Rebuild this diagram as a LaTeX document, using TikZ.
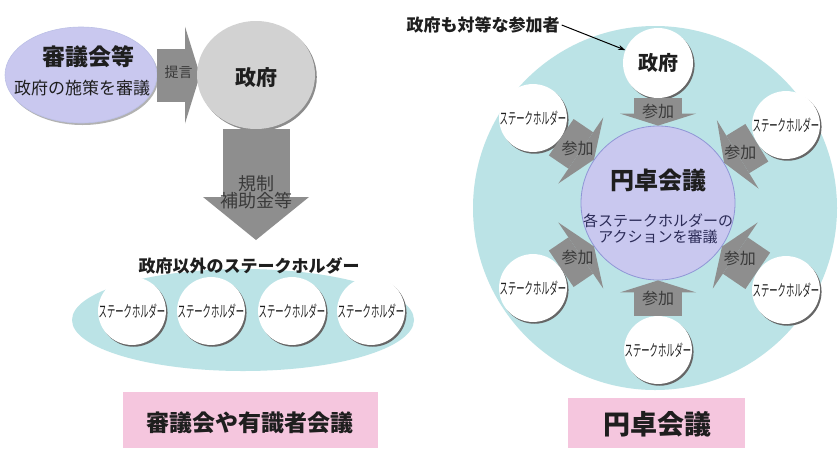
\documentclass[tikz,border=0pt]{standalone}
\usepackage{fontspec}
\setmainfont{Noto Sans CJK JP}
\usetikzlibrary{arrows.meta,calc,shapes.geometric,shadows}
\definecolor{tealbg}{HTML}{BBE3E6}
\definecolor{lav}{HTML}{C9C8EF}
\definecolor{lavedge}{HTML}{9096D6}
\definecolor{pinkbg}{HTML}{F5C6DE}
\definecolor{arrgray}{HTML}{8E8E8E}
\definecolor{circgray}{HTML}{D2D2D2}
\definecolor{txt}{HTML}{1E1E1E}
\definecolor{navytxt}{HTML}{2C2C58}
\definecolor{lbltxt}{HTML}{3A3A3A}
\newcommand{\fsz}[1]{\fontsize{#1}{#1}\selectfont}
\newcommand{\stxt}{\scalebox{0.52}[1]{\fsz{16}ステークホルダー}}
\begin{document}
\begin{tikzpicture}[x=1pt,y=-1pt,
  stake/.style={circle, fill=white, minimum size=66pt, inner sep=0pt, text=txt,
    drop shadow={shadow xshift=1.6pt, shadow yshift=-1.8pt, fill=black!60, opacity=1}},
  lbl/.style={text=lbltxt, font=\fsz{16}, inner sep=0pt},
  blkR/.style={draw=arrgray, line width=48pt, -{Triangle[length=12pt,width=76pt,line width=0pt]}},
  blkD/.style={draw=arrgray, line width=44pt, -{Triangle[length=16pt,width=80pt,line width=0pt]}},
  pinkbox/.style={fill=pinkbg, draw=none}
]
\useasboundingbox (0,0) rectangle (840,448);
\fill[white] (0,0) rectangle (840,448);

% ---------------- left panel ----------------
\node[ellipse, fill=lav, draw=lavedge!60, line width=0.6pt, minimum width=152pt, minimum height=96pt,
  drop shadow={shadow xshift=1.5pt, shadow yshift=-2pt, fill=black!30, opacity=1}] (shingi) at (81,75) {};
\node[text=txt, font=\bfseries\fsz{23}] (shingiT) at (88,57) {審議会等};
\node[text=txt, font=\fsz{17}] (shingiS) at (82,88) {政府の施策を審議};

% proposal arrow (behind government circle)
\draw[draw=arrgray, line width=53pt, -{Triangle[length=15pt,width=97pt,line width=0pt]}] (shingi) -- node[text=lbltxt, font=\fsz{14}, inner sep=0pt, yshift=3pt] {提言} (200,75);

\node[ellipse, fill=circgray, minimum width=118pt, minimum height=108pt, inner sep=0pt,
  drop shadow={shadow xshift=1.8pt, shadow yshift=-2pt, fill=black!45, opacity=1}] (seifuL) at (256,75) {};
\node[text=txt, font=\bfseries\fsz{21}] (seifuLT) at (256,78) {政府};

\coordinate (dtip) at (256,240);
\draw[draw=arrgray, line width=67pt, -{Triangle[length=43pt,width=106pt,line width=0pt]}] (seifuL) -- (dtip);
\node[text=lbltxt, font=\fsz{18}, align=center, inner sep=0pt] (regT) at (256,192) {規制\\[-1pt]補助金等};

% stakeholder group
\fill[tealbg] (243,320) ellipse[x radius=171, y radius=51];
\node[text=txt, font=\bfseries\fsz{17}] (groupT) at (249,266) {政府以外のステークホルダー};
\node[stake] (L1) at (132,311) {\stxt};
\node[stake] (L2) at (211,311) {\stxt};
\node[stake] (L3) at (292,311) {\stxt};
\node[stake] (L4) at (371,311) {\stxt};

\fill[pinkbox] (123,392) rectangle (378,448);
\node[text=txt, font=\bfseries\fsz{23}] (leftT) at (250,423) {審議会や有識者会議};

% ---------------- right panel ----------------
\fill[tealbg] (655,208) circle[radius=182];

\node[circle, fill=lav, draw=lavedge, line width=0.8pt, minimum size=154pt, inner sep=0pt] (round) at (658,203) {};
\node[text=txt, font=\bfseries\fsz{24}] (roundT) at (658,180) {円卓会議};
\node[text=navytxt, font=\fsz{15}, align=center, inner sep=0pt] (roundS) at (658,229) {各ステークホルダーの\\[1pt]アクションを審議};

\node[stake, minimum size=70pt] (G) at (658,63) {\bfseries\fsz{20}政府};
\node[stake] (S1) at (533,118) {\stxt};
\node[stake] (S2) at (786,125) {\stxt};
\node[stake] (S3) at (533,288) {\stxt};
\node[stake] (S4) at (786,290) {\stxt};
\node[stake] (S5) at (658,350) {\stxt};

\draw[blkR] (G) -- node[lbl] {参加} (round);
\draw[blkR] (S5) -- node[lbl] {参加} (round);
\draw[blkD] (S1) -- node[lbl] {参加} (round);
\draw[blkD] (S2) -- node[lbl] {参加} (round);
\draw[blkD] (S3) -- node[lbl] {参加} (round);
\draw[blkD] (S4) -- node[lbl] {参加} (round);

\node[text=txt, font=\bfseries\fsz{17}, inner sep=2pt] (note) at (483,25) {政府も対等な参加者};
\draw[line width=1pt, -{Stealth[length=7pt,width=5pt]}] (note.east) -- (G);

\fill[pinkbox] (568,398) rectangle (745,448);
\node[text=txt, font=\bfseries\fsz{27}] (rightT) at (657,424) {円卓会議};
\end{tikzpicture}
\end{document}
